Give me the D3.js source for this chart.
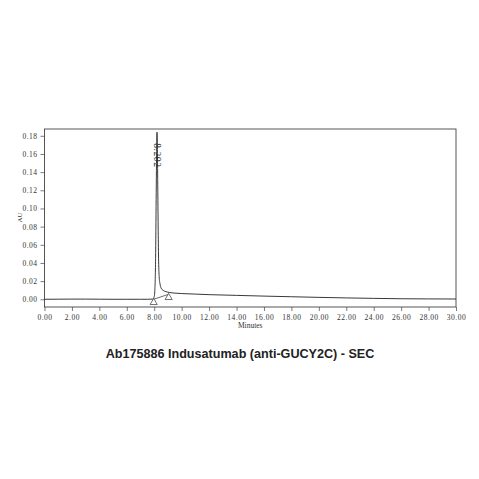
<!DOCTYPE html>
<html><head><meta charset="utf-8">
<script src="https://cdn.jsdelivr.net/npm/d3@7"></script>
<style>body{margin:0;background:#fff}svg{display:block}</style>
</head><body>
<svg id="c" width="479" height="479"></svg>
<script>
const times = [0,1,2,3,4,5,6,7,7.5,7.9,8.0,8.05,8.1,8.14,8.18,8.202,8.23,8.26,8.29,8.32,8.36,8.42,8.5,8.65,8.85,9.1,9.5,10,11,12,14,16,18,20,22,24,26,28,30];
const absorb = [0,0.0001,0.0002,0.0002,0.0001,0,0,0,0,0.0002,0.003,0.012,0.045,0.11,0.168,0.184,0.165,0.12,0.075,0.042,0.025,0.017,0.0125,0.0098,0.0084,0.0075,0.0068,0.0063,0.0057,0.0051,0.0043,0.0035,0.0028,0.0021,0.0015,0.001,0.0006,0.0004,0.0003];
const peakLabel = "8.202";
const peakTime = 8.202, peakValue = 0.184;
const markTimes = [7.96, 9.05];
const markValues = [0.0, 0.0055];
const xTickLabels = ["0.00","2.00","4.00","6.00","8.00","10.00","12.00","14.00","16.00","18.00","20.00","22.00","24.00","26.00","28.00","30.00"];
const yTickLabels = ["0.00","0.02","0.04","0.06","0.08","0.10","0.12","0.14","0.16","0.18"];
const title = "Ab175886 Indusatumab (anti-GUCY2C) - SEC";

const svg = d3.select("#c");
const L=44.5, R=456, T=129, B=307;
const x = d3.scaleLinear().domain([0,30]).range([L,R]);
const y = d3.scaleLinear().domain([-0.0085,0.1875]).range([B,T]);
const font = "'Liberation Serif', serif";
const col = "#333";

svg.append("rect").attr("x",L).attr("y",T).attr("width",R-L).attr("height",B-T)
  .attr("fill","none").attr("stroke","#444").attr("stroke-width",0.9);

const xMajor = xTickLabels.map(d=>+d);
const xMinor = d3.range(0,30.001,0.4);
const gx = svg.append("g").attr("transform",`translate(0,${B})`);
gx.call(d3.axisBottom(x).tickValues(xMinor).tickSize(2.5).tickFormat(""))
  .call(g=>g.select(".domain").remove());
gx.call(d3.axisBottom(x).tickValues(xMajor).tickSize(4).tickPadding(4)
  .tickFormat((d,i)=>xTickLabels[i]))
  .call(g=>g.select(".domain").remove());
gx.selectAll("line").attr("stroke","#444").attr("stroke-width",0.7);
gx.selectAll("text").attr("font-family",font).attr("font-size",7.5).attr("fill",col).attr("letter-spacing",0.5);

const yMajor = yTickLabels.map(d=>+d);
const yMinor = d3.range(-0.005,0.1851,0.005);
const gy = svg.append("g").attr("transform",`translate(${L},0)`);
gy.call(d3.axisLeft(y).tickValues(yMinor).tickSize(2.5).tickFormat(""))
  .call(g=>g.select(".domain").remove());
gy.call(d3.axisLeft(y).tickValues(yMajor).tickSize(4).tickPadding(3)
  .tickFormat((d,i)=>yTickLabels[i]))
  .call(g=>g.select(".domain").remove());
gy.selectAll("line").attr("stroke","#444").attr("stroke-width",0.7);
gy.selectAll("text").attr("font-family",font).attr("font-size",7.5).attr("fill",col).attr("letter-spacing",0.5);

svg.append("text").attr("transform",`translate(${L-23},${(y(0)+y(0.18))/2}) rotate(-90)`)
  .attr("text-anchor","middle").attr("font-family",font).attr("font-size",7).attr("fill",col).text("AU");
svg.append("text").attr("x",(L+R)/2).attr("y",328).attr("text-anchor","middle")
  .attr("font-family",font).attr("font-size",7.5).attr("fill",col).text("Minutes");

svg.append("line").attr("x1",x(markTimes[0])).attr("y1",y(markValues[0]))
  .attr("x2",x(markTimes[1])).attr("y2",y(markValues[1]))
  .attr("stroke","#444").attr("stroke-width",0.8);

const line = d3.line().x((d,i)=>x(times[i])).y((d,i)=>y(absorb[i])).curve(d3.curveMonotoneX);
svg.append("path").attr("d",line(absorb)).attr("fill","none").attr("stroke","#222").attr("stroke-width",0.9);

const tri = d3.symbol().type(d3.symbolTriangle).size(22);
markTimes.forEach((t,i)=>{
  svg.append("path").attr("d",tri()).attr("transform",`translate(${x(t)},${y(markValues[i])+3.2})`)
    .attr("fill","#fff").attr("stroke","#333").attr("stroke-width",0.7);
});

svg.append("text").attr("transform",`translate(${x(peakTime)-3},${y(peakValue)+11}) rotate(90)`)
  .attr("font-family",font).attr("font-size",9.5).attr("fill",col).attr("letter-spacing",0.6).text(peakLabel);

svg.append("text").attr("x",240).attr("y",358).attr("text-anchor","middle")
  .attr("font-family","'Liberation Sans', Arial, sans-serif").attr("font-weight","bold")
  .attr("font-size",12.6).attr("fill","#222").text(title);
</script>
</body></html>
